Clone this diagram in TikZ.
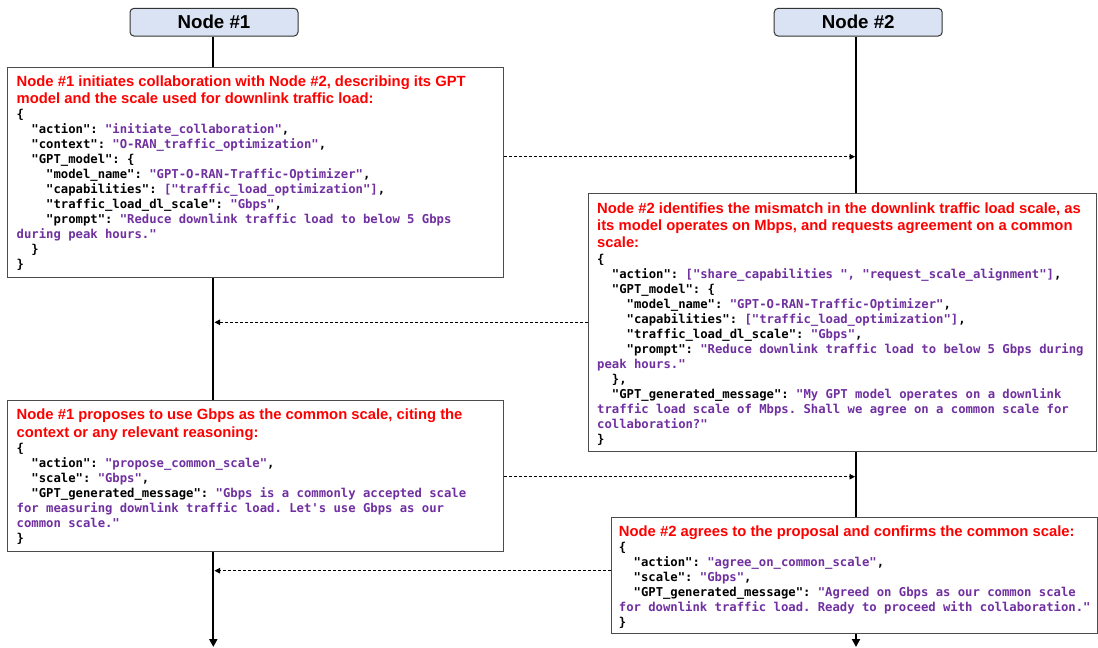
\documentclass[tikz,border=0pt]{standalone}
\usepackage{fontspec}
\setmonofont{DejaVu Sans Mono}
\newfontfamily\hfont{Liberation Sans}
\usetikzlibrary{arrows.meta}
\definecolor{jpurple}{HTML}{7030A0}
\definecolor{hred}{HTML}{FF0000}
\definecolor{nfill}{HTML}{DAE3F3}
\newcommand\jv[1]{\textcolor{jpurple}{#1}}
\newcommand\jIndA{\phantom{xx}}
\newcommand\jIndB{\phantom{xxxx}}
\newcommand\jsp{\spaceskip=0.602em\xspaceskip=0.602em\relax}
\newcommand\hsp{\spaceskip=0.278em plus 0.05em\xspaceskip=0.278em plus 0.05em\relax}
\begin{document}
\begin{tikzpicture}[x=1pt,y=-1pt,
  title/.style={draw=black!80, line width=1pt, rounded corners=4pt, fill=nfill,
    minimum width=168pt, minimum height=27.7pt, inner sep=0pt,
    font={\hfont\bfseries\fontsize{18.7}{22}\selectfont}},
  msgbox/.style={draw=black!70, line width=1.1pt, fill=white, anchor=north west, inner sep=0pt},
  hdr/.style={anchor=base west, inner sep=0pt, text width=505pt, align=left, text=hred,
    font={\hfont\bfseries\fontsize{14.8}{17.8}\selectfont}},
  hdrb/.style={hdr, font={\hfont\bfseries\fontsize{14.8}{17}\selectfont}},
  json/.style={anchor=base west, inner sep=0pt, text width=520pt, align=left,
    font={\ttfamily\bfseries\fontsize{12.24}{15}\selectfont}},
  life/.style={line width=2.2pt, -{Triangle[width=8pt,length=8pt]}},
  msg/.style={line width=0.8pt, dash pattern=on 3pt off 2pt, -{Triangle[width=5.5pt,length=5.5pt]}}
]
\useasboundingbox (0,0) rectangle (1098,648);

% participants
\node[title] (n1) at (214,22.2) {Node \#1};
\node[title] (n2) at (858.2,22.2) {Node \#2};
\coordinate (e1) at (213.3,647);
\coordinate (e2) at (856,647);
\draw[life] (n1.south -| e1) -- (e1);
\draw[life] (n2.south -| e2) -- (e2);

% message boxes
\node[msgbox, minimum width=496pt, minimum height=210.6pt] (b1) at (7.3,66.7) {};
\node[msgbox, minimum width=507.4pt, minimum height=257.2pt] (b2) at (588.3,193.3) {};
\node[msgbox, minimum width=495.7pt, minimum height=150.7pt] (b3) at (7,400) {};
\node[msgbox, minimum width=486pt, minimum height=116.6pt] (b4) at (610.7,516.7) {};

% box 1
\node[hdr] (h1) at (16.5,86) {\hsp Node \#1 initiates collaboration with Node \#2, describing its GPT\\model and the scale used for downlink traffic load:};
\node[json] (j1) at (16.5,118) {\jsp\{\\
\jIndA"action": \jv{"initiate\_collaboration"},\\
\jIndA"context": \jv{"O-RAN\_traffic\_optimization"},\\
\jIndA"GPT\_model": \{\\
\jIndB"model\_name": \jv{"GPT-O-RAN-Traffic-Optimizer"},\\
\jIndB"capabilities": \jv{["traffic\_load\_optimization"]},\\
\jIndB"traffic\_load\_dl\_scale": \jv{"Gbps"},\\
\jIndB"prompt": \jv{"Reduce downlink traffic load to below 5 Gbps}\\
\jv{during peak hours."}\\
\jIndA\}\\
\}};

% box 2
\node[hdrb] (h2) at (597,213.3) {\hsp Node \#2 identifies the mismatch in the downlink traffic load scale, as\\its model operates on Mbps, and requests agreement on a common\\scale:};
\node[json] (j2) at (597,263.3) {\jsp\{\\
\jIndA"action": \jv{["share\_capabilities ", "request\_scale\_alignment"]},\\
\jIndA"GPT\_model": \{\\
\jIndB"model\_name": \jv{"GPT-O-RAN-Traffic-Optimizer"},\\
\jIndB"capabilities": \jv{["traffic\_load\_optimization"]},\\
\jIndB"traffic\_load\_dl\_scale": \jv{"Gbps"},\\
\jIndB"prompt": \jv{"Reduce downlink traffic load to below 5 Gbps during}\\
\jv{peak hours."}\\
\jIndA\},\\
\jIndA"GPT\_generated\_message": \jv{"My GPT model operates on a downlink}\\
\jv{traffic load scale of Mbps. Shall we agree on a common scale for}\\
\jv{collaboration?"}\\
\}};

% box 3
\node[hdr] (h3) at (16.5,419.3) {\hsp Node \#1 proposes to use Gbps as the common scale, citing the\\context or any relevant reasoning:};
\node[json] (j3) at (16.5,452) {\jsp\{\\
\jIndA"action": \jv{"propose\_common\_scale"},\\
\jIndA"scale": \jv{"Gbps"},\\
\jIndA"GPT\_generated\_message": \jv{"Gbps is a commonly accepted scale}\\
\jv{for measuring downlink traffic load. Let's use Gbps as our}\\
\jv{common scale."}\\
\}};

% box 4
\node[hdr] (h4) at (618.7,536) {\hsp Node \#2 agrees to the proposal and confirms the common scale:};
\node[json] (j4) at (618.7,551) {\jsp\{\\
\jIndA"action": \jv{"agree\_on\_common\_scale"},\\
\jIndA"scale": \jv{"Gbps"},\\
\jIndA"GPT\_generated\_message": \jv{"Agreed on Gbps as our common scale}\\
\jv{for downlink traffic load. Ready to proceed with collaboration."}\\
\}};

% messages
\coordinate (m1) at (855,156.7);
\coordinate (m2) at (214.5,322.3);
\coordinate (m3) at (855,476.7);
\coordinate (m4) at (214.5,570.7);
\draw[msg] (b1.east |- m1) -- (m1);
\draw[msg] (b2.west |- m2) -- (m2);
\draw[msg] (b3.east |- m3) -- (m3);
\draw[msg] (b4.west |- m4) -- (m4);
\end{tikzpicture}
\end{document}
